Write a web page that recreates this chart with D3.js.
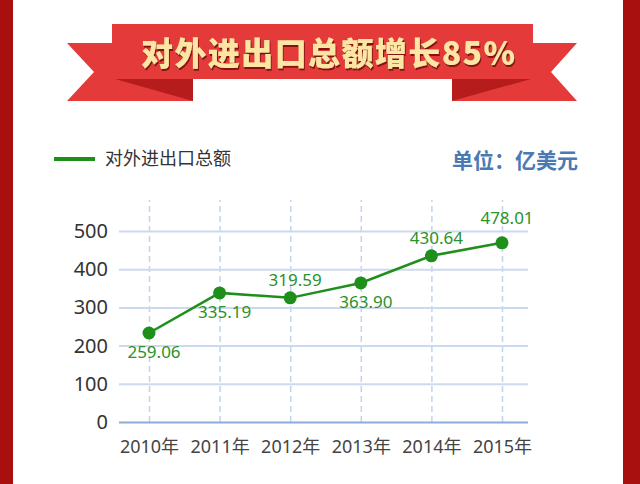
<!DOCTYPE html>
<html>
<head>
<meta charset="utf-8">
<script src="https://cdn.jsdelivr.net/npm/d3@7"></script>
<style>
  html, body { margin: 0; padding: 0; background: #fff; }
  svg { display: block; font-family: "Noto Sans", "Noto Sans CJK SC", sans-serif; }
</style>
</head>
<body>
<div id="content"></div>
<script>
/* chart data */
const years = ["2010年", "2011年", "2012年", "2013年", "2014年", "2015年"];
const values = [233, 338, 325, 364, 435, 469];
const valueLabels = ["259.06", "335.19", "319.59", "363.90", "430.64", "478.01"];
const labelSide = ["below", "below", "above", "below", "above", "above"];
const yTicks = [0, 100, 200, 300, 400, 500];
const title = "对外进出口总额增长85%";
const seriesName = "对外进出口总额";
const unitText = "单位：亿美元";

const WIDTH = 640;
const HEIGHT = 484;
const GREEN = "#1f8f1c";

const svg = d3.select("#content").append("svg").attr("width", WIDTH).attr("height", HEIGHT);

// shadow for the banner title
const defs = svg.append("defs");
defs.append("filter").attr("id", "shadow")
    .attr("x", "-5%").attr("y", "-20%").attr("width", "110%").attr("height", "150%")
    .append("feDropShadow")
    .attr("dx", 1).attr("dy", 2).attr("stdDeviation", 0.6)
    .attr("flood-color", "#7a1010").attr("flood-opacity", 0.9);

// red side borders
svg.append("rect").attr("x", 0).attr("y", 0).attr("width", 13).attr("height", HEIGHT).attr("fill", "#a80f0f");
svg.append("rect").attr("x", 623).attr("y", 0).attr("width", 17).attr("height", HEIGHT).attr("fill", "#a80f0f");

// ribbon banner
const banner = svg.append("g");
banner.append("polygon").attr("points", "67,43 193,43 193,101 67,101 94,72").attr("fill", "#e43b3a");
banner.append("polygon").attr("points", "577,43 452,43 452,101 577,101 551,72").attr("fill", "#e43b3a");
banner.append("rect").attr("x", 112).attr("y", 24).attr("width", 421).attr("height", 55).attr("fill", "#e43b3a");
banner.append("polygon").attr("points", "115,79 193,79 193,101").attr("fill", "#b71c1c");
banner.append("polygon").attr("points", "452,79 531,79 452,101").attr("fill", "#b71c1c");

banner.append("text")
    .attr("x", 328).attr("y", 65)
    .attr("text-anchor", "middle")
    .attr("textLength", 374)
    .attr("font-size", 32).attr("font-weight", 900)
    .attr("font-family", "'Noto Sans CJK SC', sans-serif")
    .attr("fill", "#fde6a4")
    .attr("filter", "url(#shadow)")
    .text(title);

// legend
svg.append("line").attr("x1", 54).attr("x2", 95).attr("y1", 159).attr("y2", 159)
    .attr("stroke", GREEN).attr("stroke-width", 4);
svg.append("text").attr("x", 105).attr("y", 165)
    .attr("font-size", 18).attr("fill", "#333")
    .attr("font-family", "'Noto Sans CJK SC', sans-serif")
    .text(seriesName);

// unit
svg.append("text").attr("x", 578).attr("y", 168)
    .attr("text-anchor", "end")
    .attr("font-size", 21).attr("font-weight", "bold").attr("fill", "#4a79b4")
    .attr("font-family", "'Noto Sans CJK SC', sans-serif")
    .text(unitText);

// scales
const x = d3.scalePoint().domain(years).range([149, 502]);
const y = d3.scaleLinear().domain([0, 500]).range([422, 231]);

// horizontal grid + y labels
const yAxis = svg.append("g").attr("transform", "translate(119,0)")
    .call(d3.axisLeft(y).tickValues(yTicks).tickSize(-409).tickPadding(11).tickFormat(d3.format("d")));
yAxis.select(".domain").remove();
yAxis.selectAll(".tick line")
    .attr("stroke", d => d === 0 ? "#8fabd8" : "#ccdaf0")
    .attr("stroke-width", 2);
yAxis.selectAll(".tick text")
    .attr("font-size", 20).attr("fill", "#333")
    .attr("font-family", "'Noto Sans', sans-serif");

// vertical dashed grid + x labels
const xAxis = svg.append("g").attr("transform", "translate(0,422)")
    .call(d3.axisBottom(x).tickSize(-222).tickPadding(18));
xAxis.select(".domain").remove();
xAxis.selectAll(".tick line")
    .attr("stroke", "#c2d3ec").attr("stroke-width", 1.5).attr("stroke-dasharray", "6,4");
xAxis.selectAll(".tick text")
    .attr("font-size", 18).attr("fill", "#444")
    .attr("font-family", "'Noto Sans', 'Noto Sans CJK SC', sans-serif");
// keep zero line above the dashed lines
yAxis.raise();

// line + points
const line = d3.line().x((d, i) => x(years[i])).y(d => y(d));
svg.append("path").datum(values)
    .attr("d", line).attr("fill", "none")
    .attr("stroke", GREEN).attr("stroke-width", 2.5);

svg.selectAll("circle.pt").data(values).enter().append("circle")
    .attr("class", "pt")
    .attr("cx", (d, i) => x(years[i]))
    .attr("cy", d => y(d))
    .attr("r", 6.5)
    .attr("fill", GREEN);

svg.selectAll("text.val").data(values).enter().append("text")
    .attr("class", "val")
    .attr("x", (d, i) => x(years[i]) + 5)
    .attr("y", (d, i) => y(d) + (labelSide[i] === "below" ? 25 : (i === values.length - 1 ? -19 : -12)))
    .attr("text-anchor", "middle")
    .attr("font-size", 17).attr("fill", "#2a922a")
    .text((d, i) => valueLabels[i]);
</script>
</body>
</html>
